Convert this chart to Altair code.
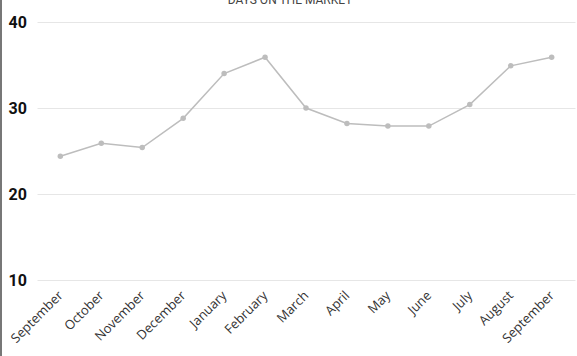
import altair as alt
import pandas as pd

months = ["September", "October", "November", "December", "January", "February",
          "March", "April", "May", "June", "July", "August", "September"]
days = [24.4, 25.9, 25.4, 28.8, 34.0, 35.9, 30.0, 28.2, 27.9, 27.9, 30.4, 34.9, 35.9]
y_ticks = [10, 20, 30, 40]
title_text = "DAYS ON THE MARKET"

df = pd.DataFrame({"idx": list(range(len(months))), "month": months, "days": days})

label_expr = "[" + ",".join(f"'{m}'" for m in months) + "][datum.value]"

W, H = 538, 258
PAD_L, PAD_T, PAD_R, PAD_B = 37, 22, 2, 76

x = alt.X("idx:O", title=None,
          scale=alt.Scale(type="point", padding=0.57),
          axis=alt.Axis(labelExpr=label_expr, labelAngle=-45, labelAlign="right",
                        labelBaseline="middle", labelPadding=13, ticks=False, tickSize=0,
                        domain=False, grid=False, labelFont="Open Sans", labelFontSize=13,
                        labelColor="#333333"))
y = alt.Y("days:Q", title=None,
          scale=alt.Scale(domain=[10, 40], nice=False, zero=False),
          axis=alt.Axis(values=y_ticks, ticks=False, tickSize=0, domain=False,
                        labelAlign="left", labelPadding=29, labelFont="Roboto",
                        labelFontWeight="bold", labelFontSize=16, labelColor="#111111",
                        gridColor="#e6e6e6", gridWidth=1))

line = alt.Chart(df).mark_line(color="#bdbdbd", strokeWidth=1.5).encode(x=x, y=y)
pts = alt.Chart(df).mark_point(filled=True, color="#bdbdbd", size=30, opacity=1).encode(x=x, y=y)

tdf = pd.DataFrame({"t": [title_text]})
title = alt.Chart(tdf).mark_text(font="Roboto", fontSize=12, color="#444444",
                                 baseline="alphabetic", align="center").encode(
    x=alt.value(253), y=alt.value(-18), text="t:N")

border = alt.Chart(tdf).mark_rule(color="#777777", strokeWidth=2).encode(
    x=alt.value(-36), y=alt.value(-PAD_T), y2=alt.value(H + PAD_B))

chart = alt.layer(line, pts, title, border).properties(
    width=W, height=H,
    autosize=alt.AutoSizeParams(type="none"),
    padding={"left": PAD_L, "top": PAD_T, "right": PAD_R, "bottom": PAD_B},
).configure(background="white").configure_view(stroke=None)

chart.save("out.html", embed_options={"renderer": "svg", "actions": False})
